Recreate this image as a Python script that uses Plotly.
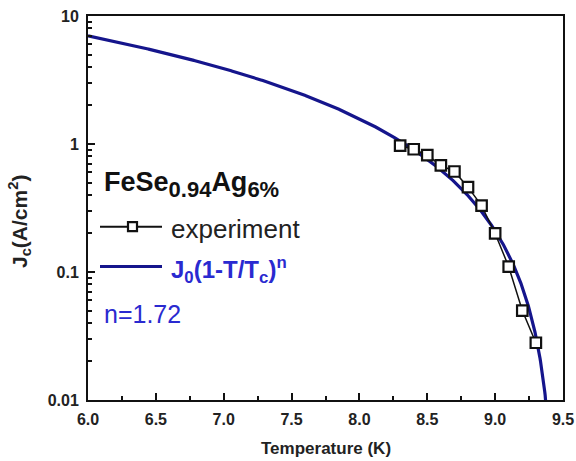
import numpy as np
import plotly.graph_objects as go

# Measured critical current density of FeSe0.94Ag6%
temperature_k = [8.3, 8.4, 8.5, 8.6, 8.7, 8.8, 8.9, 9.0, 9.1, 9.2, 9.3]
jc_experiment = [0.97, 0.91, 0.82, 0.68, 0.61, 0.46, 0.33, 0.20, 0.11, 0.050, 0.028]

# Power-law fit Jc = J0 (1 - T/Tc)^n
J0 = 39.6
TC = 9.449
N_EXP = 1.72

x_ticks = [6.0, 6.5, 7.0, 7.5, 8.0, 8.5, 9.0, 9.5]
y_ticks = [0.01, 0.1, 1, 10]
y_tick_labels = ["0.01", "0.1", "1", "10"]

t_fit = np.linspace(6.0, TC - 1e-4, 1200)
j_fit = J0 * (1 - t_fit / TC) ** N_EXP

FIT_COLOR = "#15158c"
TEXT_BLUE = "#2a2ad0"
FONT = "Liberation Sans, Arial, sans-serif"

# plot-area geometry in pixels (used to place free text)
W, H = 576, 461
L, R, T, B = 88, 13, 16, 61
PW, PH = W - L - R, H - T - B


def px(x):
    return (x - L) / PW


def py(y):
    return (H - B - y) / PH


fig = go.Figure()
fig.add_trace(go.Scatter(
    x=t_fit, y=j_fit, mode="lines",
    line=dict(color=FIT_COLOR, width=3.2),
    showlegend=False, hoverinfo="skip",
))
fig.add_trace(go.Scatter(
    x=temperature_k, y=jc_experiment, mode="lines+markers",
    line=dict(color="#111111", width=1.5),
    marker=dict(symbol="square", size=10.5, color="white",
                line=dict(color="#111111", width=2.2)),
    showlegend=False,
))

minor_y = [m * 10 ** e for e in range(-2, 1) for m in range(2, 10)]

fig.update_xaxes(
    range=[6.0, 9.5], tickvals=x_ticks, tickformat=".1f",
    ticks="inside", ticklen=7, tickwidth=2, tickcolor="#111",
    minor=dict(tickvals=[6.25, 6.75, 7.25, 7.75, 8.25, 8.75, 9.25],
               ticks="inside", ticklen=4, tickwidth=2, tickcolor="#111"),
    showline=True, linewidth=2, linecolor="#111", mirror=True,
    showgrid=False, zeroline=False, ticklabelstandoff=4, automargin=False,
    tickfont=dict(family=FONT, size=16, color="#222", weight="bold"),
)
fig.update_yaxes(
    type="log", range=[-2, 1], tickvals=y_ticks, ticktext=y_tick_labels,
    ticks="inside", ticklen=7, tickwidth=2, tickcolor="#111",
    minor=dict(tickvals=minor_y, ticks="inside", ticklen=4, tickwidth=1.5,
               tickcolor="#111"),
    showline=True, linewidth=2, linecolor="#111", mirror=True,
    showgrid=False, zeroline=False, ticklabelstandoff=4, automargin=False,
    tickfont=dict(family=FONT, size=16, color="#222", weight="bold"),
)

annotations = [
    # axis titles
    dict(x=px(326), y=py(448), xanchor="center",
         text="<b>Temperature (K)</b>",
         font=dict(family=FONT, size=17, color="#222")),
    dict(x=px(20), y=py(222), xanchor="center", textangle=-90,
         text="<b>J<sub>c</sub>(A/cm<sup>2</sup>)</b>",
         font=dict(family=FONT, size=21, color="#222")),
    # in-plot key
    dict(x=px(102), y=py(184), xanchor="left",
         text=("<b>FeSe<sub><span style='font-size:22px'>0.94</span></sub>"
               "Ag<sub><span style='font-size:22px'>6%</span></sub></b>"),
         font=dict(family=FONT, size=27, color="#111")),
    dict(x=px(169), y=py(229), xanchor="left", text="experiment",
         font=dict(family=FONT, size=26, color="#222")),
    dict(x=px(169), y=py(270), xanchor="left",
         text="<b>J<sub>0</sub>(1-T/T<sub>c</sub>)<sup>n</sup></b>",
         font=dict(family=FONT, size=24, color=TEXT_BLUE)),
    dict(x=px(102), y=py(314), xanchor="left", text="n=1.72",
         font=dict(family=FONT, size=25, color=TEXT_BLUE)),
]
for a in annotations:
    a.update(xref="paper", yref="paper", yanchor="middle", showarrow=False)

shapes = [
    dict(type="line", xref="paper", yref="paper", x0=px(100), x1=px(162),
         y0=py(226.7), y1=py(226.7), line=dict(color="#111", width=2)),
    dict(type="rect", xref="paper", yref="paper", x0=px(128), x1=px(137),
         y0=py(231.2), y1=py(222.2), fillcolor="white",
         line=dict(color="#111", width=2.2)),
    dict(type="line", xref="paper", yref="paper", x0=px(100), x1=px(162),
         y0=py(266.5), y1=py(266.5), line=dict(color=FIT_COLOR, width=3.2)),
]

fig.update_layout(
    width=W, height=H,
    margin=dict(l=L, r=R, t=T, b=B),
    paper_bgcolor="white", plot_bgcolor="white",
    annotations=annotations, shapes=shapes,
)

fig.write_html("out.html")
